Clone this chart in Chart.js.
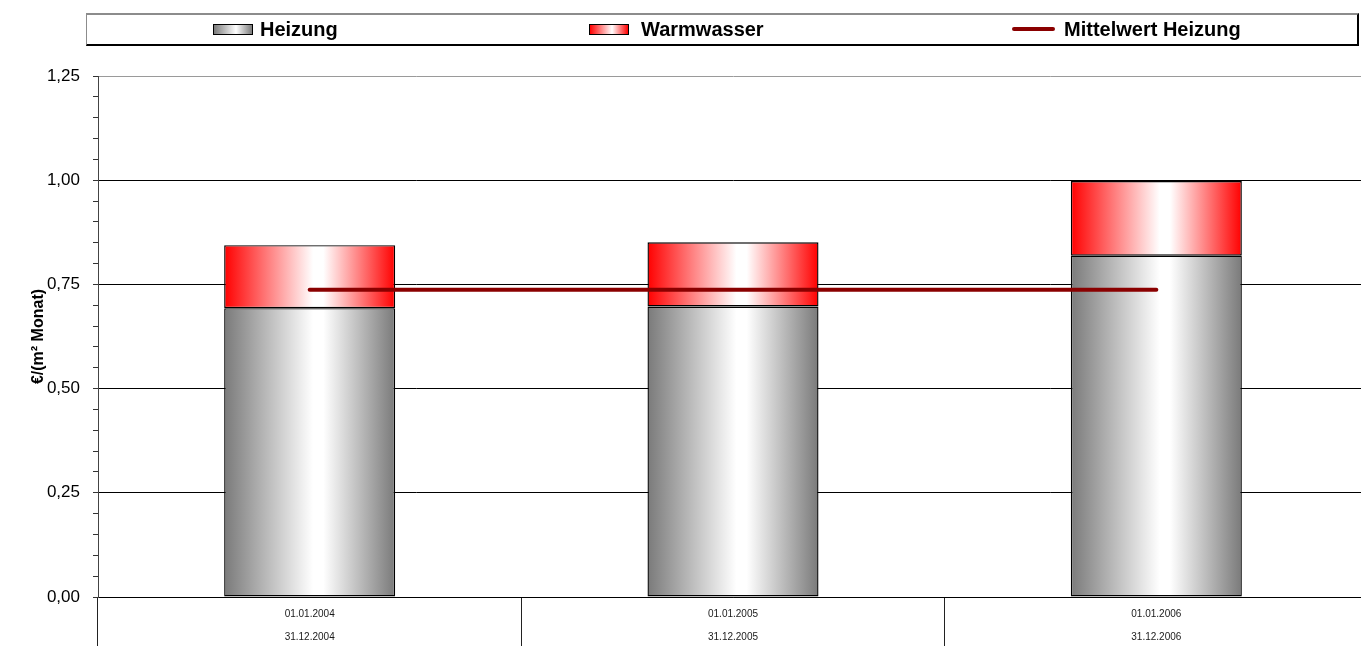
<!DOCTYPE html>
<html>
<head>
<meta charset="utf-8">
<script src="https://cdn.jsdelivr.net/npm/chart.js@4.4.1/dist/chart.umd.min.js"></script>
<style>
  html, body { margin: 0; padding: 0; background: #fff; }
  #wrap { position: relative; width: 1361px; height: 646px; overflow: hidden; font-family: "Liberation Sans", Arial, sans-serif; }
  #c { position: absolute; left: 0; top: 0; }
  #legendBox { position: absolute; left: 86px; top: 13px; width: 1270px; height: 29px;
    border-top: 2px solid #8c8c8c; border-left: 1px solid #8c8c8c; border-right: 2px solid #000; border-bottom: 2px solid #000; }
  .lg-text { position: absolute; top: 19px; line-height: 20px; font-size: 20px; font-weight: bold; color: #000; white-space: nowrap; }
  .lg-sw { position: absolute; top: 24px; width: 38px; height: 9px; border: 1px solid #000; }
  .lg-line { position: absolute; top: 27px; width: 43px; height: 4px; border-radius: 2px; background: #8a0000; }
</style>
</head>
<body>
<div id="wrap">
  <canvas id="c" width="1369" height="646"></canvas>
  <div id="legendBox"></div>
  <div class="lg-sw" style="left:213px;background:linear-gradient(to right,#7a7a7a,#ffffff 58%,#7a7a7a);"></div>
  <div class="lg-text" style="left:260px;">Heizung</div>
  <div class="lg-sw" style="left:589px;background:linear-gradient(to right,#ff0000,#ffffff 58%,#ff0000);"></div>
  <div class="lg-text" style="left:641px;">Warmwasser</div>
  <div class="lg-line" style="left:1012px;"></div>
  <div class="lg-text" style="left:1064px;">Mittelwert Heizung</div>
</div>
<script>
// ---- data ----
const categories = [["01.01.2004", "31.12.2004"], ["01.01.2005", "31.12.2005"], ["01.01.2006", "31.12.2006"]];
const heizung = [0.693, 0.697, 0.819];
const warmwasser = [0.151, 0.154, 0.179];
const mittelwertHeizung = [0.737, 0.737, 0.737];
const seriesNames = ["Heizung", "Warmwasser", "Mittelwert Heizung"];
const yMajorTicks = [0, 0.25, 0.5, 0.75, 1.0, 1.25];
const yMinorStep = 0.05;
const yAxisTitle = "€/(m² Monat)";

const BAR_PCT = 0.404;

function isMajor(v) {
  return yMajorTicks.some(m => Math.abs(m - v) < 1e-6);
}

function gradientFill(edgeColor, fallback) {
  return function (ctx) {
    if (ctx.type !== 'data') return fallback;
    const chart = ctx.chart;
    const xs = chart.scales && chart.scales.x;
    if (!xs || !isFinite(xs.width) || xs.width <= 0) return fallback;
    const cw = xs.width / categories.length;
    const bw = cw * BAR_PCT;
    const cx = xs.getPixelForValue(ctx.dataIndex);
    const g = chart.ctx.createLinearGradient(cx - bw / 2, 0, cx + bw / 2, 0);
    g.addColorStop(0, edgeColor);
    g.addColorStop(0.52, '#ffffff');
    g.addColorStop(0.58, '#ffffff');
    g.addColorStop(1, edgeColor);
    return g;
  };
}

const chart = new Chart(document.getElementById('c'), {
  data: {
    labels: categories,
    datasets: [
      {
        type: 'bar', label: seriesNames[0], data: heizung, stack: 'bars', order: 2,
        backgroundColor: gradientFill('#7a7a7a', '#b0b0b0'),
        borderColor: '#000', borderWidth: 1.4, borderSkipped: false,
        barPercentage: BAR_PCT, categoryPercentage: 1.0
      },
      {
        type: 'bar', label: seriesNames[1], data: warmwasser, stack: 'bars', order: 2,
        backgroundColor: gradientFill('#ff0000', '#ff8080'),
        borderColor: '#000', borderWidth: 1.4, borderSkipped: false,
        barPercentage: BAR_PCT, categoryPercentage: 1.0
      },
      {
        type: 'line', label: seriesNames[2], data: mittelwertHeizung, stack: 'mean', order: 0,
        borderColor: '#8a0000', borderWidth: 4, borderCapStyle: 'round',
        pointRadius: 0, pointHoverRadius: 0, fill: false, tension: 0
      }
    ]
  },
  options: {
    responsive: false,
    animation: false,
    devicePixelRatio: 1,
    layout: { padding: { top: 76, right: 1, left: 0, bottom: 0 } },
    plugins: { legend: { display: false }, tooltip: { enabled: false } },
    scales: {
      x: {
        stacked: true,
        offset: true,
        afterFit: s => { s.height = 49; },
        grid: { offset: true, drawOnChartArea: false, drawTicks: true, tickLength: 49, color: '#222', lineWidth: 1 },
        border: { display: true, color: '#000', width: 1 },
        ticks: {
          autoSkip: false, maxRotation: 0, minRotation: 0, padding: -43.5,
          color: '#1a1a1a',
          font: { family: '"Liberation Sans", Arial, sans-serif', size: 10, lineHeight: '23px' }
        }
      },
      y: {
        stacked: true,
        min: 0, max: 1.25,
        afterFit: s => { s.width = 98; },
        afterBuildTicks: s => {
          const t = [];
          for (let i = 0; i <= Math.round(1.25 / yMinorStep); i++) t.push({ value: +(i * yMinorStep).toFixed(2) });
          s.ticks = t;
        },
        grid: {
          drawTicks: true, tickLength: 5,
          color: ctx => {
            const v = ctx.tick ? ctx.tick.value : 0;
            if (!isMajor(v)) return 'rgba(0,0,0,0)';
            return Math.abs(v - 1.25) < 1e-6 ? '#9a9a9a' : '#000';
          },
          tickColor: '#333', lineWidth: 1
        },
        border: { display: true, color: '#444', width: 1 },
        ticks: {
          autoSkip: false, padding: 13, color: '#000',
          font: { family: '"Liberation Sans", Arial, sans-serif', size: 17, lineHeight: 1 },
          callback: v => isMajor(v) ? v.toFixed(2).replace('.', ',') : ''
        },
        title: {
          display: true, text: yAxisTitle, color: '#000',
          font: { family: '"Liberation Sans", Arial, sans-serif', size: 16, weight: 'bold' },
          padding: { top: 29, bottom: 0 }
        }
      }
    }
  }
});
</script>
</body>
</html>
